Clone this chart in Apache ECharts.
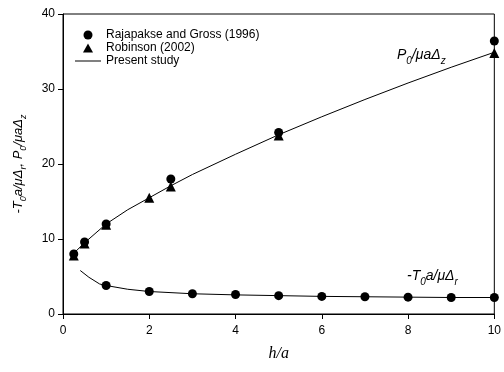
<!DOCTYPE html>
<html>
<head>
<meta charset="utf-8">
<script src="https://cdn.jsdelivr.net/npm/echarts@6/dist/echarts.min.js"></script>
<style>
html,body{margin:0;padding:0;background:#fff;}
#c{width:504px;height:372px;}
</style>
</head>
<body>
<div id="c"></div>
<script>
// ---- data ----
var rajapakseUpper = [[0.25, 8.0], [0.5, 9.6], [1, 12.0], [2.5, 18.0], [5, 24.2], [10, 36.4]];
var rajapakseLower = [[1, 3.8], [2, 3.0], [3, 2.7], [4, 2.6], [5, 2.45], [6, 2.35], [7, 2.3], [8, 2.25], [9, 2.2], [10, 2.2]];
var robinson = [[0.25, 7.8], [0.5, 9.4], [1, 11.9], [2, 15.5], [2.5, 17.0], [5, 23.8], [10, 34.8]];
var presentUpper = [[0.25, 8.1], [0.5, 9.5], [1, 12.0], [1.5, 13.9], [2, 15.5], [2.5, 17.1], [3, 18.6], [4, 21.3], [5, 23.9], [6, 26.3], [7, 28.6], [8, 30.8], [9, 32.9], [10, 34.9]];
var presentLower = [[0.4, 5.8], [0.6, 4.9], [0.85, 4.0], [1, 3.8], [1.5, 3.3], [2, 3.0], [3, 2.7], [4, 2.55], [5, 2.45], [6, 2.35], [7, 2.3], [8, 2.25], [9, 2.2], [10, 2.2]];
var xTicks = {min: 0, max: 10, interval: 2};
var yTicks = {min: 0, max: 40, interval: 10};
var names = ['Rajapakse and Gross (1996)', 'Robinson (2002)', 'Present study'];

var chart = echarts.init(document.getElementById('c'), null, {renderer: 'canvas'});
var SANS = 'Liberation Sans, Arial, sans-serif';
var SERIF = 'Liberation Serif, Times New Roman, serif';

var subRich = {
  i: {fontFamily: SANS, fontStyle: 'italic', fontSize: 13, color: '#000', lineHeight: 20, verticalAlign: 'middle'},
  s: {fontFamily: SANS, fontStyle: 'italic', fontSize: 9, color: '#000', lineHeight: 10, verticalAlign: 'bottom'}
};
var annRich = {
  i: {fontFamily: SANS, fontStyle: 'italic', fontSize: 14, color: '#000', lineHeight: 22, verticalAlign: 'middle'},
  s: {fontFamily: SANS, fontStyle: 'italic', fontSize: 10, color: '#000', lineHeight: 11, verticalAlign: 'bottom'}
};

var option = {
  backgroundColor: '#fff',
  animation: false,
  grid: {left: 63, right: 8, top: 14, bottom: 58, show: true, borderColor: '#000', borderWidth: 1, backgroundColor: 'transparent'},
  legend: {
    orient: 'vertical', left: 70, top: 24, itemWidth: 26, itemHeight: 9, itemGap: 1,
    symbolKeepAspect: true,
    textStyle: {fontFamily: SANS, fontSize: 12, color: '#000'},
    data: [
      {name: names[0], icon: 'circle'},
      {name: names[1], icon: 'path://M0,9 L5,0 L10,9 Z'},
      {name: names[2], icon: 'path://M0,0 L26,0 L26,1 L0,1 Z'}
    ]
  },
  xAxis: {
    type: 'value', min: xTicks.min, max: xTicks.max, interval: xTicks.interval,
    name: 'h/a', nameLocation: 'middle', nameGap: 32,
    nameTextStyle: {fontFamily: SERIF, fontStyle: 'italic', fontSize: 16, color: '#000'},
    axisLine: {show: true, lineStyle: {color: '#000', width: 1}},
    axisTick: {show: true, inside: false, length: 5, lineStyle: {color: '#000'}},
    axisLabel: {fontFamily: SANS, fontSize: 12, color: '#000', margin: 11},
    splitLine: {show: false}
  },
  yAxis: {
    type: 'value', min: yTicks.min, max: yTicks.max, interval: yTicks.interval,
    name: '{i|-T}{s|0}{i|a/μΔ}{s|r}{i|, P}{s|0}{i|/μaΔ}{s|z}',
    nameLocation: 'middle', nameGap: 35, nameRotate: 90,
    nameTextStyle: {rich: subRich},
    axisLine: {show: true, lineStyle: {color: '#000', width: 1}},
    axisTick: {show: true, inside: false, length: 5, lineStyle: {color: '#000'}},
    axisLabel: {fontFamily: SANS, fontSize: 12, color: '#000', margin: 8},
    splitLine: {show: false}
  },
  series: [
    {name: names[2], type: 'line', data: presentUpper, showSymbol: false, symbol: 'none', lineStyle: {color: '#000', width: 1}, itemStyle: {color: '#000'}, z: 1},
    {name: names[2], type: 'line', data: presentLower, showSymbol: false, symbol: 'none', lineStyle: {color: '#000', width: 1}, itemStyle: {color: '#000'}, z: 1},
    {name: names[0], type: 'scatter', data: rajapakseUpper.concat(rajapakseLower), symbol: 'circle', symbolSize: 9, itemStyle: {color: '#000', opacity: 1}, z: 3},
    {name: names[1], type: 'scatter', data: robinson, symbol: 'triangle', symbolSize: 10, itemStyle: {color: '#000', opacity: 1}, z: 4}
  ],
  graphic: [
    {type: 'text', left: 397, top: 48, style: {rich: annRich, text: '{i|P}{s|0}{i|/μaΔ}{s|z}'}},
    {type: 'text', left: 407, top: 269, style: {rich: annRich, text: '{i|-T}{s|0}{i|a/μΔ}{s|r}'}}
  ]
};
chart.setOption(option);
</script>
</body>
</html>
